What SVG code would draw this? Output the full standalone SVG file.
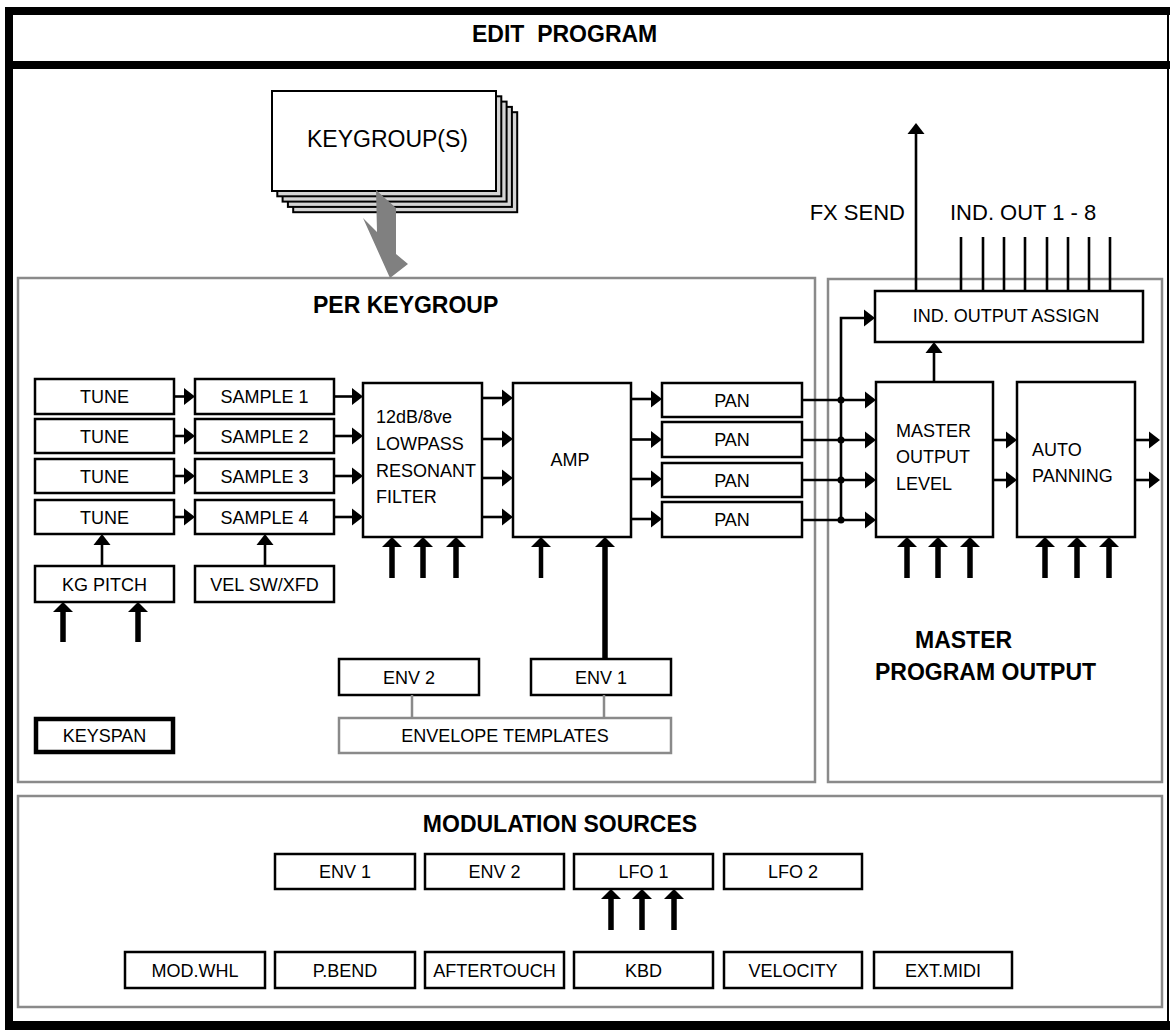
<svg xmlns="http://www.w3.org/2000/svg" width="1170" height="1030" viewBox="0 0 1170 1030">
<style>
  text { font-family: "Liberation Sans", Arial, sans-serif; fill: #000; }
  .t { font-size: 18px; }
  .c { text-anchor: middle; }
  .h { font-size: 23px; font-weight: bold; }
  .big { font-size: 22px; }
  .box { fill: #fff; stroke: #000; stroke-width: 2.5; }
  .gbox { fill: none; stroke: #8a8a8a; stroke-width: 2.5; }
  .gline { stroke: #8a8a8a; stroke-width: 2.5; fill: none; }
  .ln { stroke: #000; stroke-width: 2.6; fill: none; }
  .thin { stroke: #000; stroke-width: 2.6; fill: none; marker-end: url(#ah); }
  .thick { stroke: #000; stroke-width: 5.5; fill: none; marker-end: url(#aht); }
  .stk { fill: #d4d4d4; stroke: #000; stroke-width: 2; }
</style>
<defs>
  <marker id="ah" markerUnits="userSpaceOnUse" markerWidth="12" markerHeight="18" refX="0" refY="8.5" orient="auto" overflow="visible">
    <path d="M0,0 L11,8.5 L0,17 Z" fill="#000"/>
  </marker>
  <marker id="aht" markerUnits="userSpaceOnUse" markerWidth="11" markerHeight="21" refX="0" refY="10" orient="auto" overflow="visible">
    <path d="M0,0 L10,10 L0,20 Z" fill="#000"/>
  </marker>
</defs>

<rect width="1170" height="1030" fill="#fff"/>

<!-- outer frame -->
<g id="frame">
  <rect x="5" y="7" width="1165" height="8" fill="#000"/>
  <rect x="5" y="61" width="1165" height="8" fill="#000"/>
  <rect x="5" y="7" width="8" height="1023" fill="#000"/>
  <rect x="5" y="1021" width="1165" height="9" fill="#000"/>
  <line x1="1168" y1="7" x2="1168" y2="1021" stroke="#000" stroke-width="2"/>
  <text x="472" y="42" class="h" xml:space="preserve">EDIT  PROGRAM</text>
</g>

<!-- section panels -->
<g id="per-keygroup">
  <rect x="18" y="278" width="797" height="504" class="gbox"/>
  <text x="313" y="313" class="h">PER KEYGROUP</text>
</g>
<g id="master-program-output">
  <rect x="828" y="279" width="334" height="503" class="gbox"/>
  <text x="915" y="648" class="h">MASTER</text>
  <text x="875" y="680" class="h">PROGRAM OUTPUT</text>
</g>
<g id="modulation-sources">
  <rect x="18" y="796" width="1144" height="211" class="gbox"/>
  <text x="560" y="832" class="h c">MODULATION SOURCES</text>
</g>

<!-- keygroup stack -->
<g id="keygroups">
  <rect x="293.2" y="112.2" width="224" height="100" class="stk"/>
  <rect x="287.9" y="106.9" width="224" height="100" class="stk"/>
  <rect x="282.6" y="101.6" width="224" height="100" class="stk"/>
  <rect x="277.3" y="96.3" width="224" height="100" class="stk"/>
  <rect x="272" y="91" width="224" height="100" class="box" style="stroke-width:2"/>
  <text x="307" y="147" style="font-size:23px">KEYGROUP(S)</text>
  <polygon points="376,190 396,208 396,254 408,264 390,278 363,218 377,232" fill="#808080"/>
</g>

<!-- tune -->
<g id="tune1"><rect x="35" y="379" width="139" height="35" class="box"/><text x="104.5" y="403" class="t c">TUNE</text></g>
<g id="tune2"><rect x="35" y="419" width="139" height="34" class="box"/><text x="104.5" y="442.5" class="t c">TUNE</text></g>
<g id="tune3"><rect x="35" y="459" width="139" height="34" class="box"/><text x="104.5" y="482.5" class="t c">TUNE</text></g>
<g id="tune4"><rect x="35" y="500" width="139" height="34" class="box"/><text x="104.5" y="523.5" class="t c">TUNE</text></g>

<!-- samples -->
<g id="sample1"><rect x="195" y="379" width="139" height="35" class="box"/><text x="264.5" y="403" class="t c">SAMPLE 1</text></g>
<g id="sample2"><rect x="195" y="419" width="139" height="34" class="box"/><text x="264.5" y="442.5" class="t c">SAMPLE 2</text></g>
<g id="sample3"><rect x="195" y="459" width="139" height="34" class="box"/><text x="264.5" y="482.5" class="t c">SAMPLE 3</text></g>
<g id="sample4"><rect x="195" y="500" width="139" height="34" class="box"/><text x="264.5" y="523.5" class="t c">SAMPLE 4</text></g>

<g id="kg-pitch"><rect x="35" y="566" width="139" height="36" class="box"/><text x="104.5" y="590.5" class="t c">KG PITCH</text></g>
<g id="vel-sw-xfd"><rect x="195" y="566" width="139" height="36" class="box"/><text x="264.5" y="590.5" class="t c">VEL SW/XFD</text></g>

<!-- filter -->
<g id="filter">
  <rect x="363" y="383" width="119" height="154" class="box"/>
  <text x="376" y="423" class="t">12dB/8ve</text>
  <text x="376" y="450" class="t">LOWPASS</text>
  <text x="376" y="477" class="t">RESONANT</text>
  <text x="376" y="503" class="t">FILTER</text>
</g>

<!-- amp -->
<g id="amp">
  <rect x="513" y="383" width="118" height="154" class="box"/>
  <text x="570" y="466" class="t c">AMP</text>
</g>

<!-- pans -->
<g id="pan1"><rect x="662" y="383" width="140" height="34" class="box"/><text x="732" y="406.5" class="t c">PAN</text></g>
<g id="pan2"><rect x="662" y="422" width="140" height="35" class="box"/><text x="732" y="446" class="t c">PAN</text></g>
<g id="pan3"><rect x="662" y="463" width="140" height="34" class="box"/><text x="732" y="486.5" class="t c">PAN</text></g>
<g id="pan4"><rect x="662" y="502" width="140" height="35" class="box"/><text x="732" y="526" class="t c">PAN</text></g>

<!-- envelopes -->
<g id="env2-kg"><rect x="339" y="659" width="140" height="36" class="box"/><text x="409" y="683.5" class="t c">ENV 2</text></g>
<g id="env1-kg"><rect x="531" y="659" width="140" height="36" class="box"/><text x="601" y="683.5" class="t c">ENV 1</text></g>
<g id="envelope-templates"><rect x="339" y="718" width="332" height="35" class="gbox"/><text x="505" y="742" class="t c">ENVELOPE TEMPLATES</text></g>
<g id="keyspan"><rect x="36" y="719" width="137" height="33" class="box" style="stroke-width:4.5"/><text x="104.5" y="742" class="t c">KEYSPAN</text></g>

<!-- master -->
<g id="ind-output-assign"><rect x="875" y="291" width="268" height="51" class="box"/><text x="1006" y="322" class="t c">IND. OUTPUT ASSIGN</text></g>
<g id="master-output-level">
  <rect x="876" y="382" width="117" height="155" class="box"/>
  <text x="896" y="437" class="t">MASTER</text>
  <text x="896" y="463" class="t">OUTPUT</text>
  <text x="896" y="490" class="t">LEVEL</text>
</g>
<g id="auto-panning">
  <rect x="1017" y="382" width="118" height="155" class="box"/>
  <text x="1032" y="456" class="t">AUTO</text>
  <text x="1032" y="482" class="t">PANNING</text>
</g>
<g id="fx-send-label"><text x="905" y="220" class="big" text-anchor="end">FX SEND</text></g>
<g id="ind-out-label"><text x="950" y="220" class="big">IND. OUT 1 - 8</text></g>

<!-- modulation source boxes -->
<g id="mod-env1"><rect x="275" y="854" width="140" height="35" class="box"/><text x="345" y="878" class="t c">ENV 1</text></g>
<g id="mod-env2"><rect x="425" y="854" width="139" height="35" class="box"/><text x="494.5" y="878" class="t c">ENV 2</text></g>
<g id="mod-lfo1"><rect x="574" y="854" width="139" height="35" class="box"/><text x="643.5" y="878" class="t c">LFO 1</text></g>
<g id="mod-lfo2"><rect x="724" y="854" width="138" height="35" class="box"/><text x="793" y="878" class="t c">LFO 2</text></g>

<g id="mod-whl"><rect x="125" y="952" width="140" height="36" class="box"/><text x="195" y="976.5" class="t c">MOD.WHL</text></g>
<g id="p-bend"><rect x="275" y="952" width="140" height="36" class="box"/><text x="345" y="976.5" class="t c">P.BEND</text></g>
<g id="aftertouch"><rect x="425" y="952" width="139" height="36" class="box"/><text x="494.5" y="976.5" class="t c">AFTERTOUCH</text></g>
<g id="kbd"><rect x="574" y="952" width="139" height="36" class="box"/><text x="643.5" y="976.5" class="t c">KBD</text></g>
<g id="velocity"><rect x="724" y="952" width="138" height="36" class="box"/><text x="793" y="976.5" class="t c">VELOCITY</text></g>
<g id="ext-midi"><rect x="874" y="952" width="138" height="36" class="box"/><text x="943" y="976.5" class="t c">EXT.MIDI</text></g>

<!-- connectors -->
<g id="connectors">
  <line x1="174" y1="396.5" x2="184" y2="396.5" class="thin"/>
  <line x1="174" y1="436" x2="184" y2="436" class="thin"/>
  <line x1="174" y1="476" x2="184" y2="476" class="thin"/>
  <line x1="174" y1="517" x2="184" y2="517" class="thin"/>
  <line x1="334" y1="396.5" x2="352" y2="396.5" class="thin"/>
  <line x1="334" y1="436" x2="352" y2="436" class="thin"/>
  <line x1="334" y1="476" x2="352" y2="476" class="thin"/>
  <line x1="334" y1="517" x2="352" y2="517" class="thin"/>
  <line x1="482" y1="398" x2="502" y2="398" class="thin"/>
  <line x1="482" y1="439" x2="502" y2="439" class="thin"/>
  <line x1="482" y1="478" x2="502" y2="478" class="thin"/>
  <line x1="482" y1="517" x2="502" y2="517" class="thin"/>
  <line x1="631" y1="399" x2="651" y2="399" class="thin"/>
  <line x1="631" y1="439.5" x2="651" y2="439.5" class="thin"/>
  <line x1="631" y1="479" x2="651" y2="479" class="thin"/>
  <line x1="631" y1="519" x2="651" y2="519" class="thin"/>
  <line x1="802" y1="400" x2="865" y2="400" class="thin"/>
  <line x1="802" y1="440" x2="865" y2="440" class="thin"/>
  <line x1="802" y1="480" x2="865" y2="480" class="thin"/>
  <line x1="802" y1="520" x2="865" y2="520" class="thin"/>
  <polyline points="841,520 841,318 864,318" class="thin"/>
  <circle cx="841" cy="400" r="3.5" fill="#000"/>
  <circle cx="841" cy="440" r="3.5" fill="#000"/>
  <circle cx="841" cy="480" r="3.5" fill="#000"/>
  <circle cx="841" cy="520" r="3.5" fill="#000"/>
  <line x1="934" y1="382" x2="934" y2="353" class="thin"/>
  <line x1="916" y1="291" x2="916" y2="134" class="thin"/>
  <g class="ln">
    <line x1="961" y1="237" x2="961" y2="291"/>
    <line x1="983" y1="237" x2="983" y2="291"/>
    <line x1="1004" y1="237" x2="1004" y2="291"/>
    <line x1="1025" y1="237" x2="1025" y2="291"/>
    <line x1="1047" y1="237" x2="1047" y2="291"/>
    <line x1="1068" y1="237" x2="1068" y2="291"/>
    <line x1="1089" y1="237" x2="1089" y2="291"/>
    <line x1="1110" y1="237" x2="1110" y2="291"/>
  </g>
  <line x1="993" y1="440" x2="1006" y2="440" class="thin"/>
  <line x1="993" y1="480" x2="1006" y2="480" class="thin"/>
  <line x1="1135" y1="440" x2="1149" y2="440" class="thin"/>
  <line x1="1135" y1="480" x2="1149" y2="480" class="thin"/>
  <line x1="102" y1="566" x2="102" y2="545" class="thin"/>
  <line x1="265" y1="566" x2="265" y2="545" class="thin"/>
  <line x1="63" y1="642" x2="63" y2="612" class="thick"/>
  <line x1="138" y1="642" x2="138" y2="612" class="thick"/>
  <line x1="392" y1="578" x2="392" y2="547" class="thick"/>
  <line x1="423" y1="578" x2="423" y2="547" class="thick"/>
  <line x1="456" y1="578" x2="456" y2="547" class="thick"/>
  <line x1="541" y1="578" x2="541" y2="547" class="thick" style="stroke-width:4.5"/>
  <line x1="605" y1="659" x2="605" y2="547" class="thick"/>
  <line x1="907" y1="578" x2="907" y2="547" class="thick"/>
  <line x1="938" y1="578" x2="938" y2="547" class="thick"/>
  <line x1="970" y1="578" x2="970" y2="547" class="thick"/>
  <line x1="1045" y1="578" x2="1045" y2="547" class="thick"/>
  <line x1="1077" y1="578" x2="1077" y2="547" class="thick"/>
  <line x1="1109" y1="578" x2="1109" y2="547" class="thick"/>
  <line x1="611" y1="930" x2="611" y2="899" class="thick"/>
  <line x1="642" y1="930" x2="642" y2="899" class="thick"/>
  <line x1="674" y1="930" x2="674" y2="899" class="thick"/>
  <line x1="412" y1="695" x2="412" y2="718" class="gline"/>
  <line x1="604" y1="695" x2="604" y2="718" class="gline"/>
</g>
</svg>
